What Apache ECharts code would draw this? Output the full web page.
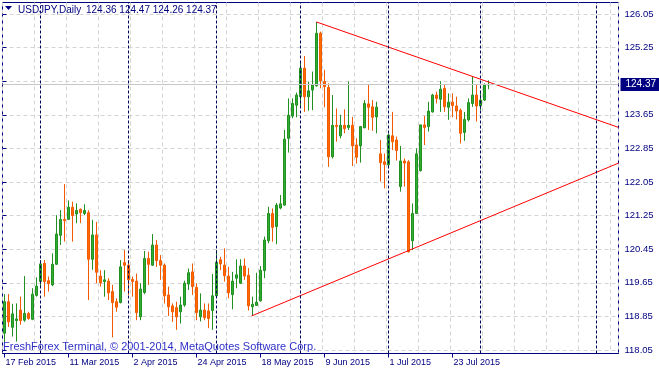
<!DOCTYPE html>
<html><head><meta charset="utf-8">
<script src="https://cdn.jsdelivr.net/npm/echarts@6/dist/echarts.min.js"></script>
<style>html,body{margin:0;padding:0;background:#fff}#c{width:659px;height:372px}</style>
</head><body><div id="c"></div>
<script>
const symbolName = 'USDJPY,Daily';
const firstDate = '2015-02-17';
const totalSlots = 154;

const opens = [
118.45,119.20,118.59,118.75,119.00,118.76,118.92,118.78,119.35,119.68,
120.11,119.70,119.60,120.09,120.78,121.16,121.16,121.45,121.29,121.40,
121.30,121.32,120.21,120.79,119.81,119.68,119.69,119.44,119.20,119.18,
120.13,120.07,119.73,119.69,118.84,119.42,120.23,120.07,120.55,120.18,
120.07,119.36,119.10,119.06,118.96,119.12,119.62,119.91,119.54,118.84,
119.00,118.98,118.99,119.34,120.20,120.07,119.81,119.37,119.76,119.64,
120.05,119.83,119.08,119.11,119.22,119.94,120.65,121.30,120.99,121.43,
121.50,123.09,123.62,123.88,124.08,124.76,124.08,124.24,124.34,125.59,
124.44,124.30,122.65,123.40,123.15,123.40,123.35,123.40,122.93,122.91,
123.34,123.91,123.84,123.60,122.72,122.53,122.46,123.15,123.05,121.94,
122.55,122.53,120.65,121.30,122.32,123.41,123.37,123.72,124.12,124.02,
124.28,123.83,123.95,123.86,123.76,123.23,123.53,123.92,124.12,123.86,
124.00,124.36];
const highs = [
119.38,119.38,119.15,119.16,119.32,119.81,118.96,119.52,119.78,120.19,
120.19,119.80,120.35,121.26,121.38,122.00,121.61,121.58,121.54,121.42,
121.52,121.38,121.15,121.10,119.95,119.95,119.76,119.60,119.28,120.19,
120.43,120.19,119.80,119.87,119.64,120.41,120.39,120.81,120.67,120.31,
120.11,119.56,119.16,119.20,119.32,119.70,119.99,120.11,119.64,119.40,
119.16,119.16,119.86,120.43,120.27,120.47,120.03,119.91,120.21,120.21,
120.23,120.00,119.32,119.89,120.05,120.75,121.46,121.42,121.55,121.74,
123.29,124.04,124.04,124.18,124.91,125.05,124.44,124.68,125.86,125.63,
124.72,124.40,124.12,123.80,123.65,123.78,124.44,123.60,123.09,123.38,
124.00,124.36,124.00,123.96,123.05,122.73,123.20,123.72,123.13,122.91,
122.61,122.57,121.54,122.85,123.41,123.62,123.96,124.15,124.20,124.45,
124.36,124.16,124.16,124.08,123.80,123.72,124.04,124.57,124.36,124.18,
124.40,124.47];
const lows = [
118.21,118.60,118.37,118.25,118.65,118.72,118.77,118.76,119.32,119.56,
119.32,119.44,119.57,120.08,120.55,120.63,121.16,120.63,121.07,121.07,
121.26,119.24,119.96,119.64,119.56,119.32,119.24,118.35,118.96,119.16,
119.44,119.36,119.32,118.76,118.76,119.38,119.60,120.05,120.03,119.72,
119.16,118.86,118.72,118.53,118.68,119.08,119.48,119.36,118.76,118.73,
118.76,118.57,118.53,119.30,119.95,119.68,119.28,119.02,119.52,119.62,
119.72,118.99,118.86,119.10,119.20,119.76,120.59,120.63,120.57,121.40,
121.48,122.75,123.57,123.59,123.83,123.72,123.75,123.76,124.32,124.28,
123.83,122.41,122.61,123.01,123.09,123.21,123.29,122.43,122.49,122.51,
123.33,123.29,123.27,123.21,122.06,121.90,122.43,122.81,122.56,121.82,
121.94,120.37,120.43,121.29,122.30,122.93,123.25,123.70,123.92,123.72,
123.72,123.53,123.59,123.54,122.97,123.03,123.49,123.84,123.49,123.76,
123.98,124.26];
const closes = [
119.20,118.72,118.91,118.79,118.75,118.92,118.80,119.38,119.57,120.10,
119.68,119.63,120.09,120.81,121.16,121.13,121.45,121.25,121.37,121.32,
121.37,120.21,120.79,119.90,119.65,119.72,119.41,119.18,119.07,120.03,
120.07,119.72,119.68,118.94,119.50,120.23,120.09,120.55,120.18,120.07,
119.34,119.08,118.96,118.84,119.12,119.64,119.89,119.56,118.94,119.00,
118.82,118.80,119.34,120.14,120.10,119.82,119.41,119.69,119.84,120.05,
119.81,119.10,119.14,119.19,119.95,120.67,121.30,120.97,121.50,121.53,
123.07,123.64,123.92,124.12,124.76,124.08,124.22,124.36,125.59,124.46,
124.32,122.65,123.40,123.37,123.40,123.32,123.40,122.91,122.64,123.37,
123.92,123.83,123.59,123.83,122.51,122.47,123.17,123.01,122.80,122.55,
122.50,120.39,121.30,122.72,123.41,123.35,123.74,124.12,124.04,124.26,
123.84,123.95,123.87,123.74,123.21,123.54,123.94,124.12,123.86,124.00,
124.36,124.37];

const priceTicks = ['118.05','118.85','119.65','120.45','121.25','122.05','122.85','123.65','124.45','125.25','126.05'];
const monthSeparators = [9, 31, 53, 74, 96, 119, 148];
const upperTrend = [[78, 125.86], [153.5, 123.35]];
const lowerTrend = [[61.75, 118.86], [153.5, 122.50]];
const copyrightText = 'FreshForex Terminal, \u00a9 2001-2014, MetaQuotes Software Corp.';

const monthNames = ['Jan','Feb','Mar','Apr','May','Jun','Jul','Aug','Sep','Oct','Nov','Dec'];
function tradingDays(start, n) {
  const out = [];
  const d = new Date(start + 'T00:00:00Z');
  while (out.length < n) {
    const w = d.getUTCDay();
    if (w !== 0 && w !== 6) out.push(d.getUTCDate() + ' ' + monthNames[d.getUTCMonth()] + ' ' + d.getUTCFullYear());
    d.setUTCDate(d.getUTCDate() + 1);
  }
  return out;
}
const dates = tradingDays(firstDate, totalSlots);
const nBars = opens.length;
const last = nBars - 1;

const NAVY = '#000080';
const SEP = '#00005a';
const GRIDC = '#d4d4d4';
const FONT = '"Liberation Sans", Arial, sans-serif';

const candleData = opens.map((o, i) => [o, closes[i], lows[i], highs[i]]);

const chart = echarts.init(document.getElementById('c'), null, {renderer: 'canvas'});
chart.setOption({
  animation: false,
  backgroundColor: '#ffffff',
  grid: [
    {left: 2.5, right: 40.5, top: 2.5, bottom: 18.5, show: true, backgroundColor: 'transparent',
     borderColor: NAVY, borderWidth: 1, outerBoundsMode: 'none', containLabel: false},
    {left: 2.5, right: 40.5, top: 14, bottom: 22, outerBoundsMode: 'none', containLabel: false}
  ],
  xAxis: [
    {type: 'category', gridIndex: 0, data: dates, boundaryGap: true,
     axisLine: {show: true, lineStyle: {color: NAVY, width: 1}},
     axisTick: {show: true, alignWithLabel: true, length: 4,
       interval: (i) => i % 16 === 0 && i < nBars, lineStyle: {color: NAVY}},
     axisLabel: {show: true, interval: (i) => i % 16 === 0 && i < nBars, align: 'left',
       margin: 5, padding: [0, 0, 0, 1], color: NAVY, fontSize: 9, fontFamily: FONT},
     splitLine: {show: true, interval: (i) => i % 8 === 0,
       lineStyle: {color: GRIDC, type: [4, 3], width: 1}}},
    {type: 'value', gridIndex: 0, min: -0.5, max: totalSlots - 0.5, show: false},
    {type: 'value', gridIndex: 1, min: 0, max: 1, show: false}
  ],
  yAxis: [
    {type: 'value', gridIndex: 0, min: 118.05 - 3.5 / 42, max: 126.05 + 11.5 / 42, show: false, splitLine: {show: false}},
    {type: 'value', gridIndex: 1, position: 'right', min: 0, max: priceTicks.length - 1, interval: 1,
     axisLine: {show: false},
     axisTick: {show: true, length: 4, lineStyle: {color: NAVY}},
     axisLabel: {show: true, margin: 6, color: NAVY, fontSize: 9.5, fontFamily: FONT,
       formatter: (v) => priceTicks[Math.round(v)]},
     splitLine: {show: true, lineStyle: {color: GRIDC, type: [4, 3], width: 1}}}
  ],
  series: [
    {
      type: 'candlestick', xAxisIndex: 0, yAxisIndex: 0, data: candleData,
      barWidth: 2,
      itemStyle: {color: '#2fae2f', color0: '#ff6a00', borderColor: '#218f21', borderColor0: '#f25a00', borderWidth: 1},
      markLine: {
        silent: true, symbol: 'none', animation: false,
        label: {show: false},
        data: monthSeparators.map(i => ({xAxis: dates[i],
          lineStyle: {color: SEP, type: [3, 2], width: 1}, label: {show: false}})).concat([
          {yAxis: closes[last], lineStyle: {color: '#c8c8c8', type: 'solid', width: 1},
           label: {show: true, position: 'end', distance: 2, formatter: closes[last].toFixed(2),
             backgroundColor: NAVY, color: '#ffffff', padding: [2, 5, 1, 5], fontSize: 10, fontFamily: FONT}}
        ])
      },
      z: 3
    },
    {type: 'line', xAxisIndex: 1, yAxisIndex: 0, data: upperTrend, showSymbol: false, silent: true,
     lineStyle: {color: '#ff0000', width: 1}, z: 4},
    {type: 'line', xAxisIndex: 1, yAxisIndex: 0, data: lowerTrend, showSymbol: false, silent: true,
     lineStyle: {color: '#ff0000', width: 1}, z: 4}
  ],
  graphic: [
    {type: 'polygon', shape: {points: [[5, 6], [12, 6], [8.5, 10]]}, style: {fill: NAVY}, z: 10},
    {type: 'text', left: 18, top: 5, z: 10,
     style: {text: symbolName, fill: NAVY, font: '10px ' + FONT}},
    {type: 'text', left: 86, top: 5, z: 10,
     style: {text: [opens[last], highs[last], lows[last], closes[last]].map(v => v.toFixed(2)).join(' '),
       fill: NAVY, font: '10px ' + FONT}},
    {type: 'text', left: 3, top: 341, z: 10,
     style: {text: copyrightText, fill: '#2f2fc8', font: '11px ' + FONT}}
  ]
});
</script>
</body></html>
